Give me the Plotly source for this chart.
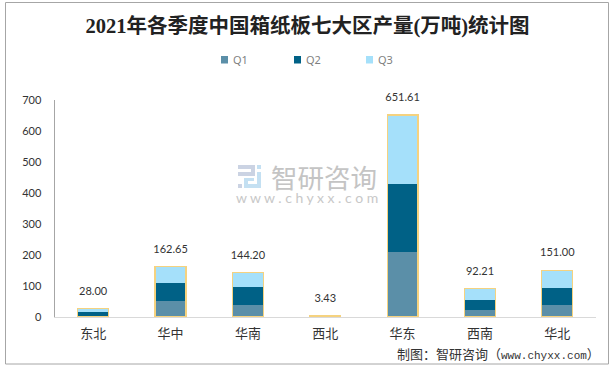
import plotly.graph_objects as go

regions = ["东北", "华中", "华南", "西北", "华东", "西南", "华北"]
q1 = [0, 52, 40, 1.1, 211, 24, 40]
q2 = [17, 59, 58, 1.2, 218, 32, 55]
q3 = [11, 51.65, 46.2, 1.13, 222.61, 36.21, 56]
totals = [28.00, 162.65, 144.20, 3.43, 651.61, 92.21, 151.00]
total_labels = ["28.00", "162.65", "144.20", "3.43", "651.61", "92.21", "151.00"]
y_ticks = [0, 100, 200, 300, 400, 500, 600, 700]
series_names = ["Q1", "Q2", "Q3"]
series_colors = ["#5B8FA8", "#006186", "#A5E0FA"]

W, H = 614, 367
L, R, T, B = 54.5, 596, 100, 317
SANS = "Lato,'Noto Sans CJK SC',sans-serif"
SERIF = "'Liberation Serif','Noto Sans CJK SC',serif"
CJK = "'Noto Sans CJK SC',sans-serif"


def px(v):
    return v / W


def py(v):
    return 1 - v / H


def rect(x0, y0, x1, y1, color):
    return dict(type="rect", xref="paper", yref="paper", x0=px(x0), x1=px(x1), y0=py(y0), y1=py(y1),
                line_width=0, fillcolor=color, layer="below")


def label(text, x, y, family, size, color, anchor="left"):
    return dict(text=text, xref="paper", yref="paper", x=px(x), y=py(y), xanchor=anchor, yanchor="middle",
                showarrow=False, font=dict(family=family, size=size, color=color))


fig = go.Figure()
for name, vals, col in zip(series_names, [q1, q2, q3], series_colors):
    fig.add_trace(go.Bar(name=name, x=regions, y=vals, showlegend=False,
                         marker=dict(color=col, line_width=0)))
fig.add_trace(go.Bar(x=regions, y=totals, yaxis="y2", showlegend=False, hoverinfo="skip",
                     marker=dict(color="rgba(0,0,0,0)", line=dict(color="#F5D27F", width=1.2))))
fig.add_trace(go.Scatter(x=regions, y=totals, mode="markers+text", text=total_labels, showlegend=False,
                         textposition="top center", cliponaxis=False,
                         marker=dict(size=16, opacity=0),
                         textfont=dict(family=SANS, size=11, color="#333333")))

shapes = [dict(type="rect", xref="paper", yref="paper", x0=px(5.5), x1=px(608.5), y0=py(364), y1=py(2.5),
               line=dict(color="#A6A6A6", width=1), fillcolor="rgba(0,0,0,0)", layer="below")]
# watermark logo
GB = "#CBD3E3"
LB = "#C4E0F2"
shapes += [rect(238, 165, 255, 169, GB), rect(251, 169, 255, 176, GB), rect(238, 172, 251, 176, GB),
           rect(238, 184, 242, 188, GB), rect(257, 165, 261, 169, LB), rect(257, 172, 261, 188, LB),
           rect(244, 178, 248, 188, LB), rect(248, 184, 257, 188, LB), rect(248, 178, 254, 181, LB)]

annotations = [
    label("智研咨询", 323.5, 176.5, CJK, 26.5, "#C4C4C4", "center"),
    label("w w w . c h y x x . c o m", 306.5, 197, SANS, 14, "#C8C8C8", "center"),
    label("制图：智研咨询（<span style=\"font-family:'Liberation Mono';font-size:11px\">www.chyxx.com</span>）",
          395, 353, CJK, 13, "#333333"),
]
for name, col, x in zip(series_names, series_colors, [221, 294, 366]):
    shapes.append(rect(x, 56, x + 7, 63.5, col))
    annotations.append(label(name, x + 10, 60, "'Noto Sans',sans-serif", 11, "#7f7f7f"))

fig.update_layout(
    width=W, height=H, margin=dict(l=0, r=0, t=0, b=0, pad=0), autosize=False, showlegend=False,
    paper_bgcolor="white", plot_bgcolor="white", barmode="stack", bargap=0.6,
    title=dict(text="<b>2021年各季度中国箱纸板七大区产量(万吨)统计图</b>", x=307.5 / W, xanchor="center",
               xref="paper", y=py(26), yanchor="middle", automargin=False,
               font=dict(family=SERIF, size=20.5, color="#222222")),
    xaxis=dict(domain=[px(L), px(R)], showline=True, linecolor="#D9D9D9", linewidth=1, ticks="",
               ticklabelstandoff=4, automargin=False,
               tickfont=dict(family=CJK, size=13, color="#333333"), showgrid=False),
    yaxis=dict(domain=[py(B), py(T)], range=[0, 700], tickvals=y_ticks, showgrid=False, automargin=False,
               showline=True, linecolor="#A6A6A6", linewidth=1, ticks="", ticklabelstandoff=10,
               tickfont=dict(family=SANS, size=11, color="#333333")),
    yaxis2=dict(overlaying="y", matches="y", visible=False, automargin=False),
    shapes=shapes,
    annotations=annotations,
)
fig.write_html("out.html", config={"displayModeBar": False},
               post_script="document.body.style.margin='0';document.documentElement.style.overflow='hidden';")
